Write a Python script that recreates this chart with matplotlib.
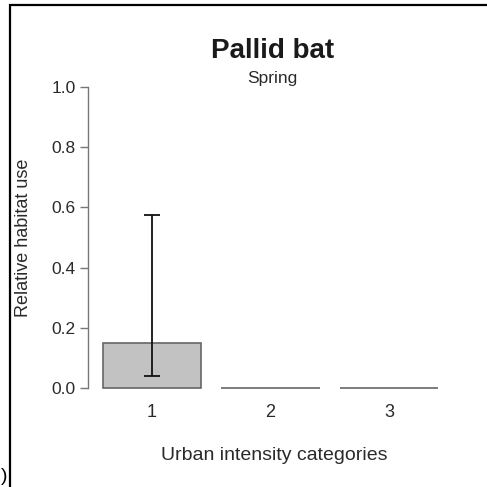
import matplotlib
matplotlib.use("Agg")
import matplotlib.pyplot as plt
from matplotlib.patches import Rectangle

plt.rcParams["font.family"] = ["Liberation Sans", "DejaVu Sans"]

# relative habitat use per urban intensity category (spring)
categories = ["1", "2", "3"]
habitat_use = [0.15, 0.0, 0.0]
ci_low = [0.04, 0.0, 0.0]
ci_high = [0.575, 0.0, 0.0]

fig = plt.figure(figsize=(4.87, 4.87), dpi=100)
ax = fig.add_axes([0.1807, 0.1848, 0.764, 0.655])

xpos = [1, 2, 3]
ax.bar(xpos, habitat_use, width=0.83, color="#c2c2c2", edgecolor="#666666",
       linewidth=1.2)

# error bar only where there is an interval
for x, lo, hi in zip(xpos, ci_low, ci_high):
    if hi > lo:
        ax.errorbar([x], [lo + (hi - lo) / 2], yerr=[[(hi - lo) / 2], [(hi - lo) / 2]],
                    fmt="none", ecolor="#111111", elinewidth=1.3, capsize=6,
                    capthick=1.3)

ax.set_xlim(0.46, 3.6)
ax.set_ylim(-0.03, 1.03)
ax.set_xticks(xpos)
ax.set_xticklabels(categories)
ax.set_yticks([0.0, 0.2, 0.4, 0.6, 0.8, 1.0])
ax.set_yticklabels(["0.0", "0.2", "0.4", "0.6", "0.8", "1.0"])

for s in ["top", "right", "bottom"]:
    ax.spines[s].set_visible(False)
ax.spines["left"].set_bounds(0, 1)
ax.spines["left"].set_color("#777777")
ax.spines["left"].set_linewidth(1.0)
ax.tick_params(axis="y", length=6, width=1.0, color="#777777", labelsize=12.5,
               labelcolor="#2a2a2a", pad=3)
ax.tick_params(axis="x", length=0, labelsize=13, labelcolor="#2a2a2a", pad=5)

ax.set_ylabel("Relative habitat use", fontsize=13, color="#2a2a2a", labelpad=14)
ax.set_xlabel("Urban intensity categories", fontsize=14, color="#2a2a2a",
              labelpad=19)

fig.text(0.559, 0.881, "Pallid bat", ha="center", va="baseline", fontsize=20,
         fontweight="bold", color="#1a1a1a")
fig.text(0.559, 0.830, "Spring", ha="center", va="baseline", fontsize=12.5,
         color="#2a2a2a")

# panel frame and cut-off panel letter
fig.patches.append(Rectangle((0.0205, -0.2), 2.0, 1.1897, transform=fig.transFigure,
                             fill=False, edgecolor="black", linewidth=1.6))
fig.text(0.001, 0.005, ")", ha="left", va="bottom", fontsize=14, color="black")

fig.savefig("out.png", dpi=100)
